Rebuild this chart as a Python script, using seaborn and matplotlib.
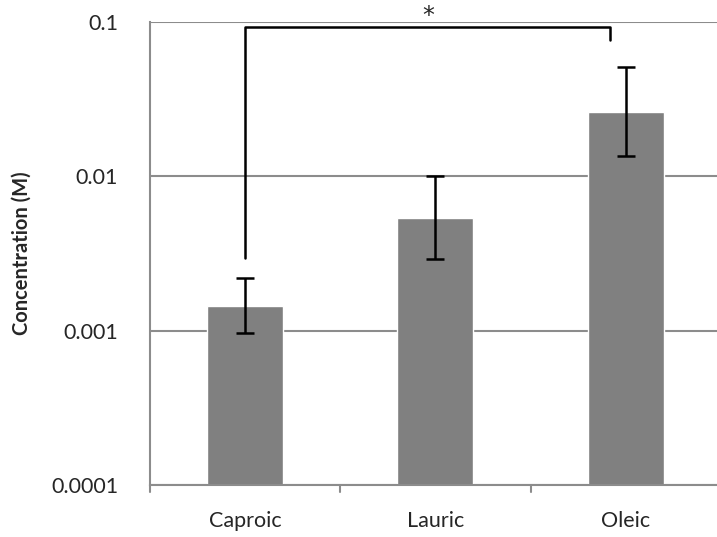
import numpy as np
import matplotlib
matplotlib.use("Agg")
import matplotlib.pyplot as plt
import seaborn as sns

# data
acids = ["Caproic", "Lauric", "Oleic"]
conc = [0.00145, 0.00540, 0.0260]
err_low = [0.00097, 0.00290, 0.0135]
err_high = [0.00220, 0.0100, 0.0510]

# significance bracket (Caproic vs Oleic)
bracket_x = [0.0, 0.0, 1.92, 1.92]
bracket_y = [0.00297, 0.093, 0.093, 0.076]
star_label = "*"

sns.set_style("white")
plt.rcParams["font.family"] = ["Lato", "DejaVu Sans"]

fig = plt.figure(figsize=(7.17, 5.37), dpi=100)
ax = fig.add_axes([150 / 717, 1 - 485 / 537, (717 - 150) / 717, (485 - 22) / 537])

sns.barplot(x=acids, y=conc, color="#808080", saturation=1, width=0.4, ax=ax)
ax.set_yscale("log")

yerr = [np.array(conc) - np.array(err_low), np.array(err_high) - np.array(conc)]
ax.errorbar(range(len(acids)), conc, yerr=yerr, fmt="none", ecolor="black",
            elinewidth=1.8, capsize=6.5, capthick=1.8, zorder=5)

ax.plot(bracket_x, bracket_y, color="black", lw=1.8, zorder=5, clip_on=False)
ax.text((bracket_x[0] + bracket_x[-1]) / 2, 0.099, star_label, ha="center", va="baseline",
        fontsize=17, family="DejaVu Sans", clip_on=False)

ax.set_ylim(0.0001, 0.1)
ax.set_xlim(-0.5, 2.48)
ax.set_yticks([0.0001, 0.001, 0.01, 0.1])
ax.set_yticklabels(["0.0001", "0.001", "0.01", "0.1"])
ax.minorticks_off()
ax.yaxis.grid(True, color="#8c8c8c", lw=1.5)
ax.set_axisbelow(True)

# category ticks sit between the bars
ax.set_xticks([0, 1, 2])
ax.set_xticklabels(acids)
ax.tick_params(axis="x", length=0, labelsize=15.5, pad=19)
ax.tick_params(axis="y", length=0, labelsize=15.5, pad=23)
for xb in [-0.5, 0.5, 1.5]:
    ax.plot([xb, xb], [0.0001, 0.0001 * 10 ** (-7 / 154)], color="#8c8c8c", lw=1.5, clip_on=False)

ax.set_ylabel("Concentration (M)", fontsize=14.5, fontweight="bold", labelpad=14)

for side in ["top", "right"]:
    ax.spines[side].set_visible(False)
for side in ["left", "bottom"]:
    ax.spines[side].set_color("#8c8c8c")
    ax.spines[side].set_linewidth(1.5)

fig.savefig("out.png", dpi=100)
